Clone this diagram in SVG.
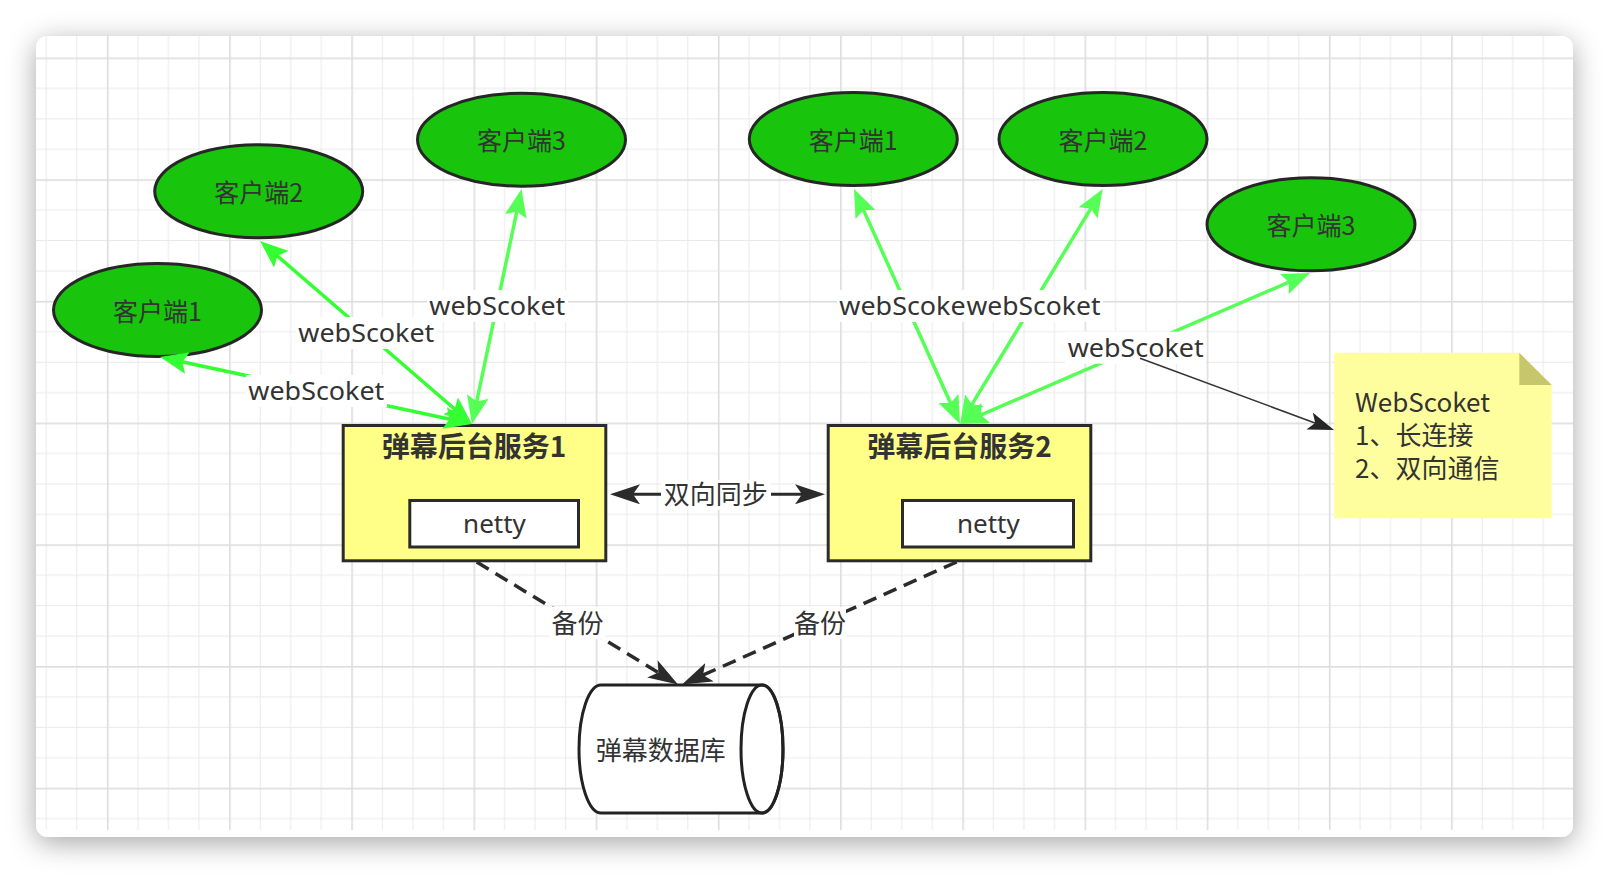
<svg xmlns="http://www.w3.org/2000/svg" width="1610" height="874" viewBox="0 0 1610 874">
<style>
.cjk{font-family:"Noto Sans CJK SC","Noto Sans",sans-serif;fill:#333;}
.lat{font-family:"Noto Sans","Noto Sans CJK SC",sans-serif;fill:#333;}
.client{fill:#18c40c;stroke:#262626;stroke-width:3;}
.ctext{font-size:25px;text-anchor:middle;}
.server{fill:#ffff88;stroke:#2b2b2b;stroke-width:3;}
.inner{fill:#ffffff;stroke:#2b2b2b;stroke-width:3;}
.title{font-size:28px;font-weight:bold;text-anchor:middle;}
.g1{fill:none;stroke:#33ff33;stroke-width:3.5;}
.g2{fill:none;stroke:#55ff55;stroke-width:3.5;}
.lbg{fill:#ffffff;}
.lbl{font-size:26px;}
.dash{fill:none;stroke:#2b2b2b;stroke-width:3.5;stroke-dasharray:14 8;}
</style>
<defs>
<filter id="shadow" x="-5%" y="-8%" width="110%" height="120%">
<feDropShadow dx="0" dy="6" stdDeviation="14" flood-color="#000" flood-opacity="0.35"/>
</filter>
<pattern id="grid" patternUnits="userSpaceOnUse" x="106.9" y="57.5" width="122.2" height="121.7">
<rect x="30.55" y="0" width="1" height="121.7" fill="#e9e9e9"/>
<rect x="61.1" y="0" width="1" height="121.7" fill="#e9e9e9"/>
<rect x="91.65" y="0" width="1" height="121.7" fill="#e9e9e9"/>
<rect x="0" y="30.4" width="122.2" height="1" fill="#e9e9e9"/>
<rect x="0" y="60.85" width="122.2" height="1" fill="#e9e9e9"/>
<rect x="0" y="91.3" width="122.2" height="1" fill="#e9e9e9"/>
<rect x="0" y="0" width="1.6" height="121.7" fill="#dddddd"/>
<rect x="0" y="0" width="122.2" height="1.6" fill="#dddddd"/>
</pattern>
<clipPath id="cardclip"><rect x="36" y="36" width="1537" height="794" rx="10"/></clipPath>
<marker id="ga" markerUnits="userSpaceOnUse" viewBox="0 0 28 22" markerWidth="28" markerHeight="22" refX="20" refY="11" orient="auto-start-reverse"><path d="M0,0 L28,11 L0,22 L5,11 Z" fill="#33ff33"/></marker>
<marker id="gb" markerUnits="userSpaceOnUse" viewBox="0 0 28 22" markerWidth="28" markerHeight="22" refX="20" refY="11" orient="auto-start-reverse"><path d="M0,0 L28,11 L0,22 L5,11 Z" fill="#55ff55"/></marker>
<marker id="ba" markerUnits="userSpaceOnUse" viewBox="0 0 30 20" markerWidth="30" markerHeight="20" refX="22" refY="10" orient="auto-start-reverse"><path d="M0,0 L30,10 L0,20 L7,10 Z" fill="#2b2b2b"/></marker>
<marker id="bb" markerUnits="userSpaceOnUse" viewBox="0 0 26 18" markerWidth="26" markerHeight="18" refX="18" refY="9" orient="auto"><path d="M0,0 L26,9 L0,18 L6,9 Z" fill="#262626"/></marker>
</defs>

<rect x="0" y="0" width="1610" height="874" fill="#ffffff"/>
<rect x="36" y="36" width="1537" height="801" rx="12" fill="#ffffff" filter="url(#shadow)"/>
<rect x="36" y="36" width="1537" height="794" fill="url(#grid)" clip-path="url(#cardclip)"/>

<g id="client1-left"><ellipse class="client" cx="157.5" cy="310" rx="104" ry="46.5"/><text class="cjk ctext" x="157.5" y="320.5">客户端1</text></g>
<g id="client2-left"><ellipse class="client" cx="258.7" cy="191.3" rx="104" ry="46.5"/><text class="cjk ctext" x="258.7" y="201.5">客户端2</text></g>
<g id="client3-left"><ellipse class="client" cx="521.5" cy="139.7" rx="104" ry="46.5"/><text class="cjk ctext" x="521.5" y="150">客户端3</text></g>
<g id="client1-right"><ellipse class="client" cx="853.3" cy="139" rx="104" ry="46.5"/><text class="cjk ctext" x="853.3" y="150">客户端1</text></g>
<g id="client2-right"><ellipse class="client" cx="1103" cy="139" rx="104" ry="46.5"/><text class="cjk ctext" x="1103" y="150">客户端2</text></g>
<g id="client3-right"><ellipse class="client" cx="1311" cy="224.3" rx="104" ry="46.5"/><text class="cjk ctext" x="1311" y="235">客户端3</text></g>

<g id="server1">
<rect class="server" x="343.2" y="425.5" width="262.6" height="135.3"/>
<text class="cjk title" x="474" y="457">弹幕后台服务1</text>
<rect class="inner" x="409.8" y="500.5" width="168.7" height="46.5"/>
<text class="lat lbl" x="494.5" y="533.3" text-anchor="middle">netty</text>
</g>
<g id="server2">
<rect class="server" x="828.2" y="425.5" width="262.6" height="135.3"/>
<text class="cjk title" x="959.5" y="457">弹幕后台服务2</text>
<rect class="inner" x="902.5" y="500.5" width="171" height="46.5"/>
<text class="lat lbl" x="988.3" y="533.3" text-anchor="middle">netty</text>
</g>

<g id="database">
<path d="M601,685 L762,685 A21,64 0 0 1 762,813 L601,813 A22,64 0 0 1 601,685 Z" fill="#ffffff" stroke="#222" stroke-width="3"/>
<ellipse cx="762" cy="749" rx="21" ry="64" fill="none" stroke="#222" stroke-width="3"/>
<text class="cjk lbl" x="660.8" y="759.5" text-anchor="middle">弹幕数据库</text>
</g>

<g id="note">
<path d="M1334.3,352.7 L1519.3,352.7 L1551.7,385 L1551.7,518.3 L1334.3,518.3 Z" fill="#fffe9e"/>
<path d="M1519.3,352.7 L1519.3,385 L1551.7,385 Z" fill="#c8c66c"/>
<text class="cjk lbl" x="1355" y="412"><tspan x="1355" y="412">WebScoket</tspan><tspan x="1355" y="445">1、长连接</tspan><tspan x="1355" y="478">2、双向通信</tspan></text>
</g>

<g id="connectors">
<path class="g1" d="M464.2,422.3 L167.8,358.7" marker-start="url(#ga)" marker-end="url(#ga)"/>
<path class="g1" d="M465.9,418.8 L266.1,246.2" marker-start="url(#ga)" marker-end="url(#ga)"/>
<path class="g2" d="M473.6,416.2 L519.9,196.8" marker-start="url(#gb)" marker-end="url(#gb)"/>
<path class="g2" d="M956.7,416.7 L857.3,196.3" marker-start="url(#gb)" marker-end="url(#gb)"/>
<path class="g2" d="M964.2,417.2 L1098.5,195.8" marker-start="url(#gb)" marker-end="url(#gb)"/>
<path class="g2" d="M967.3,420.8 L1302.7,276.2" marker-start="url(#gb)" marker-end="url(#gb)"/>
<path d="M618,494.3 L817,494.3" fill="none" stroke="#2b2b2b" stroke-width="3" marker-start="url(#ba)" marker-end="url(#ba)"/>
<path class="dash" d="M476.7,562 L671.2,680.3" marker-end="url(#ba)"/>
<path class="dash" d="M956.7,562 L689.3,681.2" marker-end="url(#ba)"/>

<g id="label-ws-c2-left"><rect class="lbg" x="296" y="317" width="141" height="32"/><text class="lat lbl" x="298.3" y="341.7" textLength="136" lengthAdjust="spacingAndGlyphs">webScoket</text></g>
<g id="label-ws-c1-left"><rect class="lbg" x="246" y="375" width="141" height="32"/><text class="lat lbl" x="248.3" y="400" textLength="136" lengthAdjust="spacingAndGlyphs">webScoket</text></g>
<g id="label-ws-c3-left"><rect class="lbg" x="427" y="290" width="141" height="32"/><text class="lat lbl" x="429.3" y="315" textLength="136" lengthAdjust="spacingAndGlyphs">webScoket</text></g>
<g id="label-ws-c1-right"><rect class="lbg" x="837" y="290" width="141" height="32"/><text class="lat lbl" x="839.3" y="315" textLength="136" lengthAdjust="spacingAndGlyphs">webScoket</text></g>
<g id="label-ws-c2-right"><rect class="lbg" x="965" y="290" width="138" height="32"/><text class="lat lbl" x="966.5" y="315" textLength="134" lengthAdjust="spacingAndGlyphs">webScoket</text></g>
<g id="label-ws-c3-right"><rect class="lbg" x="1065" y="331.7" width="141" height="32"/><text class="lat lbl" x="1067.7" y="356.7" textLength="136" lengthAdjust="spacingAndGlyphs">webScoket</text></g>
<g id="label-sync"><rect class="lbg" x="661" y="480" width="110" height="30"/><text class="cjk lbl" x="715.8" y="504" text-anchor="middle">双向同步</text></g>
<g id="label-backup-1"><rect class="lbg" x="550" y="607" width="55" height="32"/><text class="cjk lbl" x="577.5" y="633" text-anchor="middle">备份</text></g>
<g id="label-backup-2"><rect class="lbg" x="794" y="607" width="52" height="32"/><text class="cjk lbl" x="820" y="633" text-anchor="middle">备份</text></g>

<path d="M1140,358.3 L1326.5,427.2" fill="none" stroke="#333" stroke-width="1.5" marker-end="url(#bb)"/>
</g>
</svg>
